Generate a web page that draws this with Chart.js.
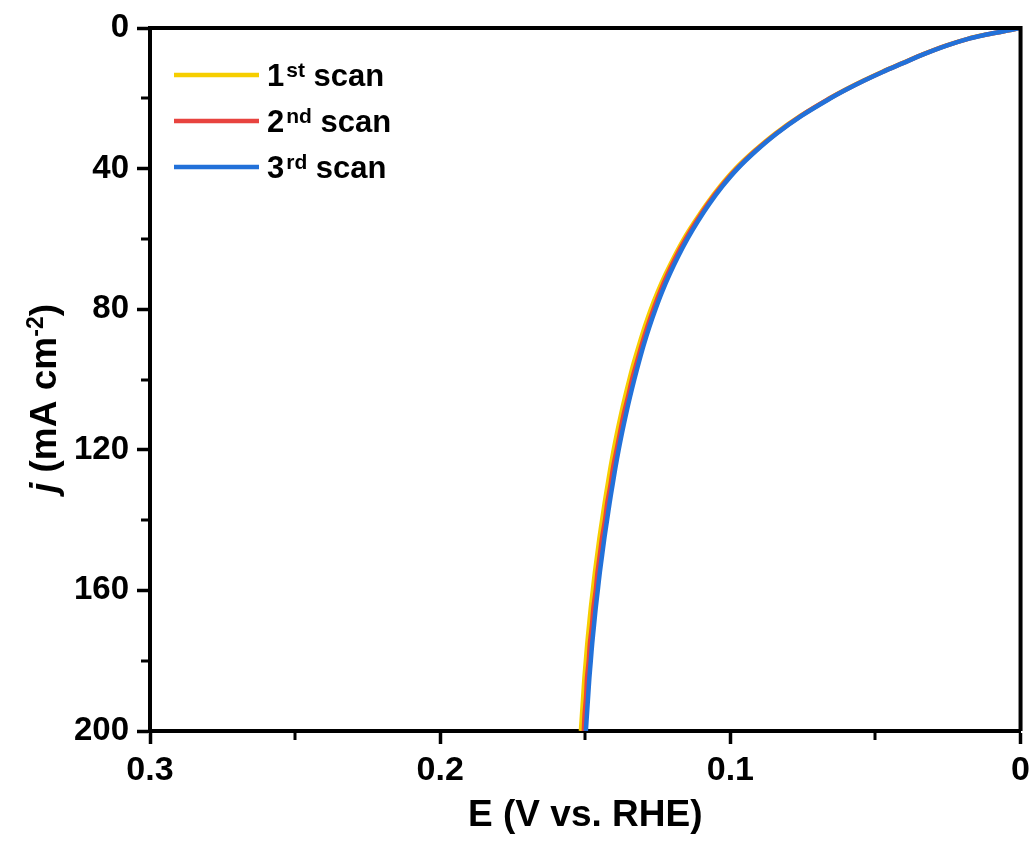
<!DOCTYPE html>
<html><head><meta charset="utf-8">
<script src="https://cdn.jsdelivr.net/npm/chart.js@4.4.0/dist/chart.umd.min.js"></script>
<style>html,body{margin:0;padding:0;background:#fff}canvas{display:block}</style>
</head><body>
<canvas id="c" width="1036" height="841"></canvas>
<script>
// current density j (mA cm-2) shared by the three scans
const currentDensity = [0, 0.5, 1, 2, 3, 5, 7.5, 10, 12.5, 15, 17.5, 20, 25, 30, 35, 40, 45, 50, 55, 60, 65, 70, 75, 80, 85, 90, 95, 100, 105, 110, 115, 120, 125, 130, 135, 140, 145, 150, 155, 160, 165, 170, 175, 180, 185, 190, 195, 200];
// potential E (V vs. RHE) for each scan
const scan1 = [0, 0.0030, 0.0062, 0.0126, 0.0179, 0.0257, 0.0337, 0.0407, 0.0478, 0.0543, 0.0603, 0.0658, 0.0759, 0.0845, 0.0918, 0.0982, 0.1035, 0.1081, 0.1122, 0.1160, 0.1193, 0.1223, 0.1250, 0.1274, 0.1295, 0.1314, 0.1332, 0.1348, 0.1363, 0.1377, 0.1390, 0.1402, 0.1413, 0.1423, 0.1433, 0.1442, 0.1451, 0.1459, 0.1467, 0.1474, 0.1481, 0.1487, 0.1493, 0.1498, 0.1503, 0.1507, 0.1511, 0.1515];
const scan2 = [0, 0.0030, 0.0062, 0.0125, 0.0178, 0.0256, 0.0336, 0.0406, 0.0476, 0.0541, 0.0601, 0.0657, 0.0757, 0.0842, 0.0915, 0.0978, 0.1031, 0.1077, 0.1117, 0.1154, 0.1187, 0.1216, 0.1242, 0.1265, 0.1286, 0.1305, 0.1322, 0.1339, 0.1353, 0.1368, 0.1380, 0.1392, 0.1404, 0.1413, 0.1424, 0.1432, 0.1442, 0.1450, 0.1458, 0.1464, 0.1472, 0.1477, 0.1484, 0.1488, 0.1494, 0.1497, 0.1502, 0.1505];
const scan3 = [0, 0.0030, 0.0062, 0.0125, 0.0178, 0.0255, 0.0335, 0.0405, 0.0475, 0.0540, 0.0600, 0.0655, 0.0755, 0.0840, 0.0912, 0.0975, 0.1027, 0.1072, 0.1112, 0.1148, 0.1180, 0.1209, 0.1235, 0.1258, 0.1279, 0.1298, 0.1315, 0.1331, 0.1346, 0.1360, 0.1373, 0.1385, 0.1396, 0.1406, 0.1416, 0.1425, 0.1434, 0.1442, 0.1450, 0.1457, 0.1464, 0.1470, 0.1476, 0.1481, 0.1486, 0.1490, 0.1494, 0.1498];

const seriesLabels = ['1st scan', '2nd scan', '3rd scan'];
const legendParts = [['1', 'st', ' scan'], ['2', 'nd', ' scan'], ['3', 'rd', ' scan']];
const seriesColors = ['#F6CE00', '#E8433F', '#2271D9'];

const xMajorTicks = [0.3, 0.2, 0.1, 0];
const xMinorTicks = [0.25, 0.15, 0.05];
const yMajorTicks = [0, 40, 80, 120, 160, 200];
const yMinorTicks = [20, 60, 100, 140, 180];

const xTitle = 'E (V vs. RHE)';
const yTitleParts = ['j', ' (mA cm', '-2', ')'];

const SANS = "'Liberation Sans', Arial, sans-serif";

function toPoints(E) { return E.map((e, i) => ({ x: e, y: currentDensity[i] })); }

const decor = {
  id: 'decor',
  afterDraw(chart) {
    const { ctx, chartArea: a, scales: { x, y } } = chart;
    ctx.save();
    ctx.strokeStyle = '#000';
    ctx.lineCap = 'butt';
    // frame top + right
    ctx.lineWidth = 4;
    ctx.beginPath();
    ctx.moveTo(a.left, a.top);
    ctx.lineTo(a.right, a.top);
    ctx.lineTo(a.right, a.bottom);
    ctx.stroke();
    // minor ticks
    ctx.lineWidth = 3;
    xMinorTicks.forEach(v => {
      const px = Math.round(x.getPixelForValue(v));
      ctx.beginPath(); ctx.moveTo(px, a.bottom); ctx.lineTo(px, a.bottom + 9); ctx.stroke();
    });
    yMinorTicks.forEach(v => {
      const py = Math.round(y.getPixelForValue(v));
      ctx.beginPath(); ctx.moveTo(a.left, py); ctx.lineTo(a.left - 9, py); ctx.stroke();
    });

    // legend
    const lx0 = a.left + 24, lx1 = a.left + 109, tx = a.left + 117;
    legendParts.forEach((parts, i) => {
      const ly = a.top + 47 + i * 46;
      ctx.strokeStyle = seriesColors[i];
      ctx.lineWidth = 4.5;
      ctx.beginPath(); ctx.moveTo(lx0, ly); ctx.lineTo(lx1, ly); ctx.stroke();
      ctx.fillStyle = '#000';
      ctx.textBaseline = 'alphabetic';
      ctx.textAlign = 'left';
      let cx = tx;
      ctx.font = 'bold 31px ' + SANS;
      ctx.fillText(parts[0], cx, ly + 11);
      cx += ctx.measureText(parts[0]).width + 2;
      ctx.font = 'bold 21px ' + SANS;
      ctx.fillText(parts[1], cx, ly + 2);
      cx += ctx.measureText(parts[1]).width;
      ctx.font = 'bold 31px ' + SANS;
      ctx.fillText(parts[2], cx, ly + 11);
    });

    // y-axis title (rotated, italic j and superscript)
    ctx.translate(43, (a.top + a.bottom) / 2 + 19);
    ctx.rotate(-Math.PI / 2);
    const fMain = 'bold 37px ' + SANS;
    const fItal = 'italic bold 37px ' + SANS;
    const fSup = 'bold 23px ' + SANS;
    const segs = [
      { t: yTitleParts[0], f: fItal, dy: 0 },
      { t: yTitleParts[1], f: fMain, dy: 0 },
      { t: yTitleParts[2], f: fSup, dy: -13 },
      { t: yTitleParts[3], f: fMain, dy: 0 }
    ];
    let total = 0;
    segs.forEach(s => { ctx.font = s.f; s.w = ctx.measureText(s.t).width; total += s.w; });
    let sx = -total / 2;
    ctx.fillStyle = '#000';
    ctx.textBaseline = 'alphabetic';
    segs.forEach(s => { ctx.font = s.f; ctx.fillText(s.t, sx, 13 + s.dy); sx += s.w; });
    ctx.restore();
  }
};

new Chart(document.getElementById('c'), {
  type: 'scatter',
  data: {
    datasets: [
      { label: seriesLabels[0], data: toPoints(scan1), borderColor: seriesColors[0], order: 3 },
      { label: seriesLabels[1], data: toPoints(scan2), borderColor: seriesColors[1], order: 2 },
      { label: seriesLabels[2], data: toPoints(scan3), borderColor: seriesColors[2], order: 1 }
    ].map(d => Object.assign(d, { showLine: true, pointRadius: 0, borderWidth: 4.5, tension: 0.3, backgroundColor: d.borderColor }))
  },
  options: {
    responsive: false,
    animation: false,
    devicePixelRatio: 1,
    layout: { padding: { top: 28, right: 15, left: 0, bottom: 0 } },
    plugins: { legend: { display: false }, tooltip: { enabled: false } },
    scales: {
      x: {
        type: 'linear', min: 0, max: 0.3, reverse: true,
        afterBuildTicks: s => { s.ticks = xMajorTicks.map(v => ({ value: v })); },
        afterFit: s => { s.height = 110; },
        grid: { drawOnChartArea: false, drawTicks: true, tickLength: 13, tickWidth: 3.5, tickColor: '#000' },
        border: { display: true, width: 4, color: '#000' },
        ticks: { color: '#000', padding: 6, maxRotation: 0, font: { family: SANS, size: 34, weight: 'bold' },
                 callback: v => (v === 0 ? '0' : (Math.round(v * 10) / 10).toFixed(1)) },
        title: { display: true, text: xTitle, color: '#000', font: { family: SANS, size: 37, weight: 'bold' }, padding: { top: 0, bottom: 3 } }
      },
      y: {
        type: 'linear', min: 0, max: 200, reverse: true,
        afterBuildTicks: s => { s.ticks = yMajorTicks.map(v => ({ value: v })); },
        afterFit: s => { s.width = 150; },
        grid: { drawOnChartArea: false, drawTicks: true, tickLength: 13, tickWidth: 3.5, tickColor: '#000' },
        border: { display: true, width: 4, color: '#000' },
        ticks: { color: '#000', padding: 8, font: { family: SANS, size: 33, weight: 'bold' } }
      }
    }
  },
  plugins: [decor]
});
</script>
</body></html>
